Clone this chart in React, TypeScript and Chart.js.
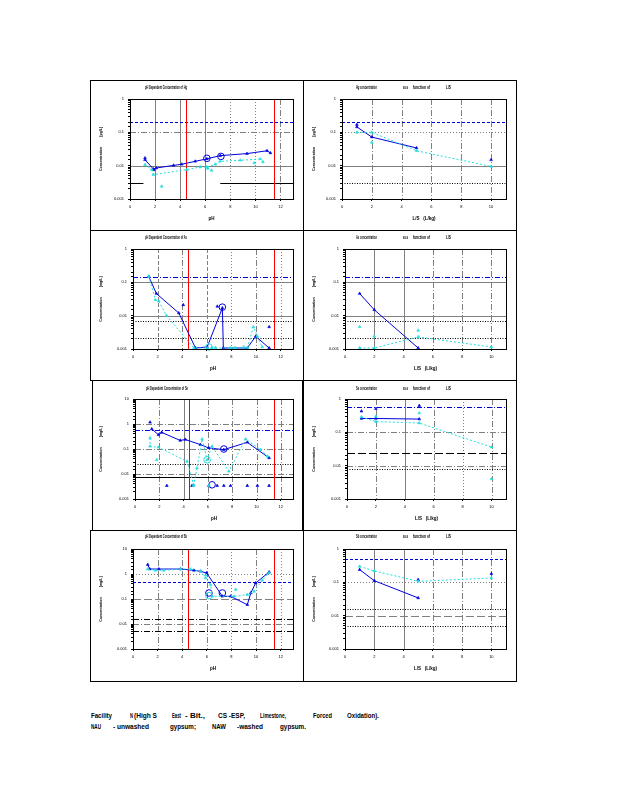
import React, { useEffect, useLayoutEffect, useRef } from 'react';
import { Chart, registerables } from 'chart.js';

Chart.register(...registerables);
Chart.defaults.font.family = "'Liberation Sans', Arial, sans-serif";
Chart.defaults.color = '#000';

type Pt = [number, number];

// ---------------- axis ranges / ticks ----------------
const PH_RANGE: Pt = [0, 13];
const LS_RANGE: Pt = [0, 11];
const PH_GRID = [2, 4, 6, 8, 10, 12];
const LS_GRID = [2, 4, 6, 8, 10];
const PH_RED = [4.45, 11.47];
const ELEMENTS = ['Hg', 'As', 'Se', 'Sb'];

// ---------------- Row 1 : Hg ----------------
const hgPH_NAU: Pt[] = [[1.2, 0.015], [1.87, 0.0079], [2.1, 0.0085], [3.47, 0.0102], [4.13, 0.011], [5.2, 0.0135], [6.13, 0.016], [7.2, 0.02], [9.33, 0.023], [10.93, 0.028], [11.2, 0.024]];
const hgPH_NAU_pts: Pt[] = [[1.2, 0.017], [1.9, 0.0075]];
const hgPH_NAW: Pt[] = [[1.2, 0.0107], [1.73, 0.0076], [1.87, 0.0054], [4.53, 0.0076], [5.6, 0.0091], [6.13, 0.0091], [6.8, 0.011], [7.2, 0.0135], [8.8, 0.0145], [10.4, 0.0158]];
const hgPH_NAW_pts: Pt[] = [[2.53, 0.0024], [6.2, 0.0082], [6.5, 0.0072], [9.9, 0.012], [10.6, 0.013]];
const hgPH_circ: Pt[] = [[6.13, 0.0166], [7.25, 0.019]];
const hgPH_limits = [0.2, 0.003];
const hgPH_blackSpans: Pt[] = [[0, 1.07], [7.2, 13]];

const hgLS_NAU: Pt[] = [[1, 0.145], [2, 0.072], [5, 0.034]];
const hgLS_NAU_pts: Pt[] = [[1, 0.17], [10, 0.015]];
const hgLS_NAW: Pt[] = [[1, 0.1], [2, 0.1], [5, 0.028], [10, 0.0095]];
const hgLS_NAW_pts: Pt[] = [[2, 0.05]];
const hgLS_limits = [0.2, 0.003];

// ---------------- Row 2 : As ----------------
const asPH_NAU: Pt[] = [[1.28, 0.15], [1.9, 0.046], [3.72, 0.012], [5.08, 0.00107], [6.03, 0.00115], [7.26, 0.017], [7.34, 0.00107], [9.29, 0.00107], [9.97, 0.0024], [11.06, 0.00107]];
const asPH_NAU_pts: Pt[] = [[4.08, 0.021], [11.06, 0.0046], [6.85, 0.019]];
const asPH_NAW: Pt[] = [[1.28, 0.15], [1.82, 0.03], [2.1, 0.027], [2.72, 0.01], [4.95, 0.00107], [6.03, 0.00107], [7.9, 0.00107], [9.3, 0.0011], [9.78, 0.0046], [10.1, 0.0024], [10.5, 0.00115]];
const asPH_NAW_pts: Pt[] = [[6.4, 0.0011], [6.7, 0.0011], [8.3, 0.0011], [9.0, 0.00115]];
const asPH_circNAU: Pt[] = [[7.26, 0.018]];
const asPH_circNAW: Pt[] = [[6.17, 0.00115]];
const asLimits = [0.145, 0.0068, 0.0021];

const asLS_NAU: Pt[] = [[1, 0.046], [2, 0.015], [5, 0.00107]];
const asLS_NAW: Pt[] = [[1, 0.00107], [2, 0.00107], [5, 0.0023], [10, 0.00115]];
const asLS_NAW_pts: Pt[] = [[1, 0.0046], [2, 0.0024], [5, 0.0036]];

// ---------------- Row 3 : Se ----------------
const sePH_NAU: Pt[] = [[1.38, 0.63], [1.93, 0.37], [2.2, 0.46], [3.72, 0.22], [4.14, 0.24], [5.38, 0.15], [6.07, 0.11], [7.31, 0.094], [9.24, 0.185], [11.03, 0.044]];
const sePH_NAU_pts: Pt[] = [[1.24, 1.17], [2.62, 0.0034], [4.69, 0.0034], [6.07, 0.0034], [6.76, 0.0034], [7.31, 0.0034], [7.86, 0.0034], [9.24, 0.0034], [10.07, 0.0034], [11.03, 0.0034]];
const sePH_NAW: Pt[] = [[1.24, 0.275], [1.24, 0.128], [1.93, 0.117], [4.28, 0.032], [4.83, 0.0037], [5.1, 0.0174], [5.52, 0.25], [5.93, 0.037], [6.34, 0.128], [7.72, 0.0128], [9.1, 0.25], [10.34, 0.094], [10.9, 0.051]];
const sePH_NAW_pts: Pt[] = [[1.79, 0.037], [4.83, 0.0034], [6.07, 0.0034]];
const sePH_circNAU: Pt[] = [[7.31, 0.1], [6.34, 0.0037]];
const sePH_circNAW: Pt[] = [[5.93, 0.037]];
const sePH_limits = [0.56, 0.025, 0.0076];

const seLS_NAU: Pt[] = [[1, 0.26], [2, 0.26], [5, 0.25]];
const seLS_NAU_pts: Pt[] = [[1, 0.43], [2, 0.51], [5, 0.63]];
const seLS_NAW: Pt[] = [[1, 0.29], [2, 0.21], [5, 0.19], [10, 0.036]];
const seLS_NAW_pts: Pt[] = [[5, 0.38], [10, 0.004], [2, 0.3]];
const seLS_limits = [0.575, 0.024, 0.008];

// ---------------- Row 4 : Sb ----------------
const sbPH_NAU: Pt[] = [[1.2, 2.36], [1.36, 1.58], [2.1, 1.58], [3.86, 1.58], [4.95, 1.4], [5.49, 1.28], [5.98, 1.1], [7.26, 0.128], [7.93, 0.128], [9.29, 0.059], [9.57, 0.174], [9.97, 0.436], [11.06, 1.2]];
const sbPH_NAW: Pt[] = [[1.2, 1.58], [1.82, 1.4], [2.5, 1.4], [3.86, 1.58], [4.67, 1.58], [5.49, 1.28], [5.9, 0.69], [6.3, 0.37], [6.44, 0.128], [8.2, 0.128], [9.29, 0.149], [9.84, 0.2], [10.5, 0.56], [11.06, 1.1]];
const sbPH_NAW_pts: Pt[] = [[8.34, 0.24], [5.9, 0.9]];
const sbPH_circNAU: Pt[] = [[6.17, 0.174], [7.26, 0.174]];
const sbPH_circNAW: Pt[] = [[6.17, 0.136]];
const sbPH_limits = [0.48, 0.016, 0.0052];

const sbLS_NAU: Pt[] = [[1, 0.24], [2, 0.112], [5, 0.034]];
const sbLS_NAU_pts: Pt[] = [[10, 0.18], [5, 0.12]];
const sbLS_NAW: Pt[] = [[1, 0.3], [2, 0.22], [5, 0.107], [10, 0.135]];
const sbLS_limits = [0.5, 0.016, 0.0048];

// ---------------- styles ----------------
const BLUE = '#0000DD';
const CYAN = '#22DDDD';
const GRAY = '#808080';
const SOLID: number[] = [];
const DOT = [1, 2];
const BDOT = [1, 1.5];
const DASH = [4, 2];
const DASHDOT = [6, 2, 1, 2];
const LONGDASH = [8, 3];
const BLUEDASH = [3, 2];
const BLUEDASHDOT = [5, 2, 1, 2];

interface LineSpec { axis: 'x' | 'y'; value: number; color: string; dash: number[]; from?: number; to?: number; }
interface PanelDef {
  kind: 'ph' | 'ls'; row: number; col: number; yMax: number; plotLeft: number; el: string; unit: string;
  blue: Pt[]; bluePts: Pt[]; cyan: Pt[]; cyanPts: Pt[]; blueCirc: Pt[]; cyanCirc: Pt[]; lines: LineSpec[];
}

const grid = (axis: 'x' | 'y', vals: number[], dashes: number[][]): LineSpec[] =>
  vals.map((v, i) => ({ axis, value: v, color: GRAY, dash: dashes[i] }));
const red = (): LineSpec[] => PH_RED.map((v) => ({ axis: 'x', value: v, color: '#FF0000', dash: SOLID }));
const hl = (v: number, color: string, dash: number[]): LineSpec => ({ axis: 'y', value: v, color, dash });

const ROW_TOPS = [80, 230, 380, 530];

const PANELS: PanelDef[] = [
  {
    kind: 'ph', row: 0, col: 0, yMax: 1, plotLeft: 130, el: ELEMENTS[0], unit: '[µg/L]',
    blue: hgPH_NAU, bluePts: hgPH_NAU_pts, cyan: hgPH_NAW, cyanPts: hgPH_NAW_pts, blueCirc: hgPH_circ, cyanCirc: [],
    lines: [
      ...grid('x', PH_GRID, [SOLID, SOLID, SOLID, DOT, DOT, DASHDOT]),
      ...grid('y', [0.1, 0.01], [DASHDOT, SOLID]),
      hl(hgPH_limits[0], BLUE, BLUEDASH),
      ...hgPH_blackSpans.map(([f, t]) => ({ ...hl(hgPH_limits[1], '#000', SOLID), from: f, to: t })),
      ...red(),
    ],
  },
  {
    kind: 'ls', row: 0, col: 1, yMax: 1, plotLeft: 342, el: ELEMENTS[0], unit: '[µg/L]',
    blue: hgLS_NAU, bluePts: hgLS_NAU_pts, cyan: hgLS_NAW, cyanPts: hgLS_NAW_pts, blueCirc: [], cyanCirc: [],
    lines: [
      ...grid('x', LS_GRID, [DASHDOT, DASHDOT, DASHDOT, DASHDOT, DASHDOT]),
      ...grid('y', [0.1, 0.01], [DOT, SOLID]),
      hl(hgLS_limits[0], BLUE, BLUEDASH),
      hl(hgLS_limits[1], '#000', BDOT),
    ],
  },
  {
    kind: 'ph', row: 1, col: 0, yMax: 1, plotLeft: 133, el: ELEMENTS[1], unit: '[mg/L]',
    blue: asPH_NAU, bluePts: asPH_NAU_pts, cyan: asPH_NAW, cyanPts: asPH_NAW_pts, blueCirc: asPH_circNAU, cyanCirc: asPH_circNAW,
    lines: [
      ...grid('x', PH_GRID, [DASH, DASHDOT, DASH, DOT, DASHDOT, DOT]),
      ...grid('y', [0.1, 0.01], [SOLID, SOLID]),
      hl(asLimits[0], BLUE, BLUEDASHDOT),
      hl(asLimits[1], '#000', BDOT),
      hl(asLimits[2], '#000', BDOT),
      ...red(),
    ],
  },
  {
    kind: 'ls', row: 1, col: 1, yMax: 1, plotLeft: 345, el: ELEMENTS[1], unit: '[mg/L]',
    blue: asLS_NAU, bluePts: [], cyan: asLS_NAW, cyanPts: asLS_NAW_pts, blueCirc: [], cyanCirc: [],
    lines: [
      ...grid('x', LS_GRID, [SOLID, SOLID, DASHDOT, DASHDOT, DASHDOT]),
      ...grid('y', [0.1, 0.01], [SOLID, SOLID]),
      hl(asLimits[0], BLUE, BLUEDASHDOT),
      hl(asLimits[1], '#000', BDOT),
      hl(asLimits[2], '#000', BDOT),
    ],
  },
  {
    kind: 'ph', row: 2, col: 0, yMax: 10, plotLeft: 135, el: ELEMENTS[2], unit: '[mg/L]',
    blue: sePH_NAU, bluePts: sePH_NAU_pts, cyan: sePH_NAW, cyanPts: sePH_NAW_pts, blueCirc: sePH_circNAU, cyanCirc: sePH_circNAW,
    lines: [
      ...grid('x', PH_GRID, [DASHDOT, SOLID, DASHDOT, DASHDOT, DASHDOT, DASHDOT]),
      ...grid('y', [1, 0.1, 0.01], [DASHDOT, DASHDOT, DASHDOT]),
      hl(sePH_limits[0], BLUE, BLUEDASHDOT),
      hl(sePH_limits[1], '#000', BDOT),
      hl(sePH_limits[2], '#000', SOLID),
      ...red(),
    ],
  },
  {
    kind: 'ls', row: 2, col: 1, yMax: 1, plotLeft: 347, el: ELEMENTS[2], unit: '[mg/L]',
    blue: seLS_NAU, bluePts: seLS_NAU_pts, cyan: seLS_NAW, cyanPts: seLS_NAW_pts, blueCirc: [], cyanCirc: [],
    lines: [
      ...grid('x', LS_GRID, [DASHDOT, SOLID, DASHDOT, DOT, DASHDOT]),
      ...grid('y', [0.1, 0.01], [DASHDOT, DASHDOT]),
      hl(seLS_limits[0], BLUE, BLUEDASHDOT),
      hl(seLS_limits[1], '#000', LONGDASH),
      hl(seLS_limits[2], '#000', BDOT),
    ],
  },
  {
    kind: 'ph', row: 3, col: 0, yMax: 10, plotLeft: 133, el: ELEMENTS[3], unit: '[mg/L]',
    blue: sbPH_NAU, bluePts: [], cyan: sbPH_NAW, cyanPts: sbPH_NAW_pts, blueCirc: sbPH_circNAU, cyanCirc: sbPH_circNAW,
    lines: [
      ...grid('x', PH_GRID, [DASHDOT, DASHDOT, DASHDOT, DOT, DASHDOT, DOT]),
      ...grid('y', [1, 0.1, 0.01], [DOT, LONGDASH, DASHDOT]),
      hl(sbPH_limits[0], BLUE, BLUEDASH),
      hl(sbPH_limits[1], '#000', DASHDOT),
      hl(sbPH_limits[2], '#000', DASHDOT),
      ...red(),
    ],
  },
  {
    kind: 'ls', row: 3, col: 1, yMax: 1, plotLeft: 345, el: ELEMENTS[3], unit: '[mg/L]',
    blue: sbLS_NAU, bluePts: sbLS_NAU_pts, cyan: sbLS_NAW, cyanPts: [], blueCirc: [], cyanCirc: [],
    lines: [
      ...grid('x', LS_GRID, [SOLID, SOLID, DASHDOT, DASHDOT, DASHDOT]),
      ...grid('y', [0.1, 0.01], [DOT, LONGDASH]),
      hl(sbLS_limits[0], BLUE, BLUEDASH),
      hl(sbLS_limits[1], '#000', BDOT),
      hl(sbLS_limits[2], '#000', BDOT),
    ],
  },
];

// ---------------- plugin: grid / reference lines and frame ----------------
const refLinesPlugin = {
  id: 'refLines',
  beforeDatasetsDraw(chart: any, _args: any, opts: any) {
    const { ctx, chartArea: a, scales } = chart;
    const xs = scales.x;
    const ys = scales.y;
    ctx.save();
    ctx.beginPath();
    ctx.rect(a.left, a.top, a.right - a.left, a.bottom - a.top);
    ctx.clip();
    ctx.lineWidth = 1;
    for (const l of (opts.lines || []) as LineSpec[]) {
      ctx.strokeStyle = l.color;
      ctx.setLineDash(l.dash);
      ctx.beginPath();
      if (l.axis === 'y') {
        const py = Math.round(ys.getPixelForValue(l.value)) + 0.5;
        const x1 = l.from !== undefined ? xs.getPixelForValue(l.from) : a.left;
        const x2 = l.to !== undefined ? xs.getPixelForValue(l.to) : a.right;
        ctx.moveTo(x1, py);
        ctx.lineTo(x2, py);
      } else {
        const px = Math.round(xs.getPixelForValue(l.value)) + 0.5;
        ctx.moveTo(px, a.top);
        ctx.lineTo(px, a.bottom);
      }
      ctx.stroke();
    }
    ctx.restore();
  },
  afterDatasetsDraw(chart: any) {
    const { ctx, chartArea: a } = chart;
    ctx.save();
    ctx.strokeStyle = '#000';
    ctx.lineWidth = 1;
    ctx.setLineDash([]);
    const l = Math.round(a.left) + 0.5;
    const t = Math.round(a.top) + 0.5;
    ctx.strokeRect(l, t, Math.round(a.right) - Math.round(a.left), Math.round(a.bottom) - Math.round(a.top));
    ctx.restore();
  },
};

const CANVAS_W = 211;
const CANVAS_H = 148;

const isDecade = (v: number) => {
  const l = Math.log10(v);
  return Math.abs(l - Math.round(l)) < 1e-6;
};

function buildConfig(p: PanelDef): any {
  const isPH = p.kind === 'ph';
  const canvasLeft = p.col === 0 ? 91 : 304;
  const plotRight = p.col === 0 ? 293 : 506;
  const yW = p.plotLeft - canvasLeft;
  const padR = canvasLeft + CANVAS_W - plotRight;
  const xr = isPH ? PH_RANGE : LS_RANGE;
  const pts = (a: Pt[]) => a.map(([x, y]) => ({ x, y }));
  const ds = (data: Pt[], color: string, showLine: boolean, dash: number[], style: string, radius: number, fill: boolean) => ({
    data: pts(data),
    showLine,
    borderColor: color,
    backgroundColor: fill ? color : 'rgba(0,0,0,0)',
    borderWidth: 1,
    borderDash: dash,
    pointStyle: style,
    pointRadius: radius,
    pointBorderColor: color,
    pointBackgroundColor: fill ? color : 'rgba(0,0,0,0)',
    pointBorderWidth: fill ? 0.6 : 1,
    tension: 0,
    clip: 4,
  });
  const datasets = [
    ds(p.cyan, CYAN, true, [2, 2], 'triangle', 1.6, true),
    ds(p.cyanPts, CYAN, false, [], 'triangle', 1.6, true),
    ds(p.cyanCirc, CYAN, false, [], 'circle', 3.3, false),
    ds(p.blue, BLUE, true, [], 'triangle', 1.6, true),
    ds(p.bluePts, BLUE, false, [], 'triangle', 1.6, true),
    ds(p.blueCirc, BLUE, false, [], 'circle', 3.3, false),
  ];
  return {
    type: 'scatter',
    data: { datasets },
    plugins: [refLinesPlugin],
    options: {
      responsive: false,
      animation: false,
      devicePixelRatio: 1,
      layout: { padding: { left: 0, right: padR, top: 18, bottom: 0 } },
      plugins: {
        legend: { display: false },
        tooltip: { enabled: false },
        title: { display: false },
        refLines: { lines: p.lines },
      },
      scales: {
        x: {
          type: 'linear',
          min: xr[0],
          max: xr[1],
          afterBuildTicks: (s: any) => {
            s.ticks = s.ticks.filter((t: any) => Math.abs(t.value % 2) < 1e-9);
          },
          ticks: { font: { size: 4 }, padding: 3, maxRotation: 0, autoSkip: false, stepSize: 2 },
          grid: { drawOnChartArea: false, drawTicks: true, tickLength: 2, color: '#000', tickColor: '#000' },
          border: { display: false },
          title: {
            display: true,
            text: isPH ? 'pH' : 'L/S   (L/kg)',
            font: { size: 4.5, weight: 'bold' },
            padding: { top: 0, bottom: 8 },
          },
          afterFit: (s: any) => {
            s.height = 30;
          },
        },
        y: {
          type: 'logarithmic',
          min: 0.001,
          max: p.yMax,
          ticks: {
            font: { size: 4 },
            padding: 4,
            autoSkip: false,
            callback: (v: any) => (isDecade(Number(v)) ? String(Number(Number(v).toPrecision(1))) : ''),
          },
          grid: { drawOnChartArea: false, drawTicks: true, tickLength: 2, color: '#000', tickColor: '#000' },
          border: { display: false },
          title: {
            display: true,
            text: 'Concentration          ' + p.unit,
            font: { size: 3.6, weight: 'bold' },
            padding: { top: 8, bottom: 0 },
          },
          afterFit: (s: any) => {
            s.width = yW;
          },
        },
      },
    },
  };
}

function Panel({ p }: { p: PanelDef }) {
  const ref = useRef<HTMLCanvasElement>(null);
  useEffect(() => {
    const chart = new Chart(ref.current as HTMLCanvasElement, buildConfig(p));
    return () => chart.destroy();
  }, [p]);
  const left = p.col === 0 ? 91 : 304;
  const top = ROW_TOPS[p.row] + 1;
  return (
    <canvas
      ref={ref}
      width={CANVAS_W}
      height={CANVAS_H}
      style={{ position: 'absolute', left, top, width: CANVAS_W, height: CANVAS_H }}
    />
  );
}

// text squeezed horizontally to a given width
function FitText({ text, x, y, w, size, bold }: { text: string; x: number; y: number; w: number; size: number; bold?: boolean }) {
  const ref = useRef<HTMLSpanElement>(null);
  useLayoutEffect(() => {
    const el = ref.current;
    if (!el) return;
    el.style.transform = 'none';
    const nat = el.getBoundingClientRect().width;
    if (nat > 0) el.style.transform = `scaleX(${w / nat})`;
  }, [text, w]);
  return (
    <span
      ref={ref}
      style={{
        position: 'absolute',
        left: x,
        top: y - size * 0.55,
        fontSize: size,
        lineHeight: 1.1,
        fontWeight: bold ? 700 : 400,
        whiteSpace: 'pre',
        transformOrigin: '0 0',
        fontFamily: "'Liberation Sans', Arial, sans-serif",
        color: '#000',
      }}
    >
      {text}
    </span>
  );
}

const CELLS = [
  { l: 90, t: 80, w: 214, h: 151 },
  { l: 303, t: 80, w: 214, h: 151 },
  { l: 90, t: 230, w: 214, h: 151 },
  { l: 303, t: 230, w: 214, h: 151 },
  { l: 92, t: 380, w: 211, h: 151 },
  { l: 303, t: 380, w: 214, h: 151 },
  { l: 90, t: 530, w: 214, h: 152 },
  { l: 303, t: 530, w: 214, h: 152 },
];

const TITLE_Y = [88, 238, 389, 537.5];

const CAPTION_1: [string, number, number][] = [
  ['Facility', 91, 21], ['N', 130, 3], ['(High S', 134, 23], ['East', 172, 9], ['- Bit.,', 185, 20],
  ['CS -ESP,', 218, 27], ['Limestone,', 260, 26], ['Forced', 313, 19], ['Oxidation).', 347, 32],
];
const CAPTION_2: [string, number, number][] = [
  ['NAU', 91, 10], ['- unwashed', 113, 36], ['gypsum;', 170, 26], ['NAW', 212, 14], ['-washed', 237, 26], ['gypsum.', 280, 26],
];

export default function App() {
  return (
    <div style={{ position: 'absolute', left: 0, top: 0, width: 618, height: 800, background: '#fff', overflow: 'hidden' }}>
      {CELLS.map((c, i) => (
        <div
          key={'c' + i}
          style={{ position: 'absolute', left: c.l, top: c.t, width: c.w, height: c.h, border: '1px solid #000', boxSizing: 'border-box' }}
        />
      ))}
      {PANELS.map((p, i) => (
        <Panel key={'p' + i} p={p} />
      ))}
      {ELEMENTS.map((el, r) => (
        <React.Fragment key={'t' + r}>
          <FitText text={`pH Dependent Concentration of ${el}`} x={r === 2 ? 146 : 145} y={TITLE_Y[r]} w={42} size={4.5} bold />
          <FitText text={`${el} concentration`} x={356} y={TITLE_Y[r]} w={21} size={4.5} bold />
          <FitText text="as a" x={403} y={TITLE_Y[r]} w={5} size={4.5} bold />
          <FitText text="function of" x={413} y={TITLE_Y[r]} w={17} size={4.5} bold />
          <FitText text="L/S" x={446} y={TITLE_Y[r]} w={5} size={4.5} bold />
        </React.Fragment>
      ))}
      {CAPTION_1.map(([t, x, w], i) => (
        <FitText key={'a' + i} text={t} x={x} y={716.5} w={w} size={8} bold />
      ))}
      {CAPTION_2.map(([t, x, w], i) => (
        <FitText key={'b' + i} text={t} x={x} y={727.5} w={w} size={8} bold />
      ))}
    </div>
  );
}
